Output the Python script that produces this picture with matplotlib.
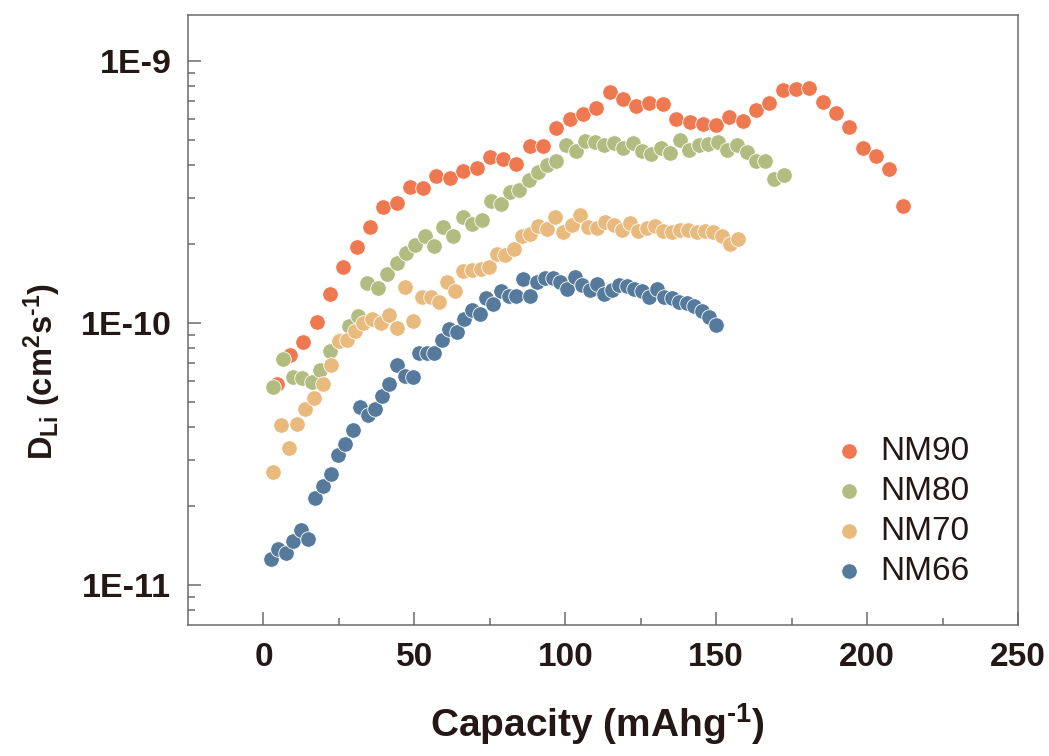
import numpy as np
import matplotlib
matplotlib.use("Agg")
import matplotlib.pyplot as plt
from matplotlib import font_manager as fm
from matplotlib.ticker import LogLocator, FuncFormatter, FixedLocator, NullFormatter

# ---------------- data (D in units of 1e-10 cm2/s) ----------------
series_names = ["NM90", "NM80", "NM70", "NM66"]
series_colors = ["#EE7850", "#B2BB80", "#E9BA7E", "#567A9C"]

nm90_cap = [4.4, 8.8, 13.2, 17.6, 22.1, 26.5, 30.9, 35.3, 39.7, 44.1,
            48.5, 52.9, 57.3, 61.8, 66.2, 70.6, 75.0, 79.4, 83.8, 88.2,
            92.6, 97.0, 101.5, 105.9, 110.3, 114.7, 119.1, 123.5, 127.9, 132.3,
            136.7, 141.2, 145.6, 150.0, 154.4, 158.8, 163.2, 167.6, 172.0, 176.4,
            180.9, 185.3, 189.7, 194.1, 198.5, 202.9, 207.3, 211.8]
nm90_d = [0.582, 0.752, 0.845, 1.01, 1.29, 1.63, 1.94, 2.32, 2.76, 2.87,
          3.30, 3.28, 3.64, 3.58, 3.78, 3.88, 4.28, 4.22, 4.04, 4.72,
          4.72, 5.56, 5.98, 6.26, 6.61, 7.59, 7.13, 6.74, 6.89, 6.83,
          5.99, 5.84, 5.71, 5.67, 6.10, 5.91, 6.48, 6.91, 7.70, 7.81,
          7.90, 6.95, 6.31, 5.61, 4.65, 4.32, 3.86, 2.78]

nm80_cap = [3.3, 6.4, 9.7, 12.8, 16.1, 18.7, 22.0, 25.1, 28.3, 31.4,
            34.4, 37.9, 40.8, 44.1, 47.2, 50.3, 53.4, 56.5, 59.6, 62.7,
            66.0, 69.1, 72.4, 75.3, 78.6, 81.7, 84.8, 87.9, 91.0, 94.0,
            96.9, 100.3, 103.6, 106.6, 109.9, 112.9, 116.0, 119.1, 122.3, 125.3,
            128.4, 131.7, 134.7, 138.0, 141.1, 144.2, 147.4, 150.5, 153.7, 156.8,
            160.1, 163.2, 166.3, 169.3, 172.6]
nm80_d = [0.571, 0.729, 0.619, 0.614, 0.596, 0.660, 0.781, 0.862, 0.972, 1.063,
          1.414, 1.36, 1.533, 1.688, 1.853, 1.974, 2.141, 1.962, 2.324, 2.141,
          2.527, 2.385, 2.47, 2.905, 2.848, 3.143, 3.218, 3.51, 3.775, 3.99,
          4.155, 4.77, 4.52, 4.946, 4.89, 4.753, 4.837, 4.63, 4.837, 4.52,
          4.39, 4.63, 4.456, 4.977, 4.56, 4.77, 4.81, 4.90, 4.56, 4.77,
          4.47, 4.155, 4.155, 3.53, 3.665]

nm70_cap = [3.0, 5.7, 8.4, 11.0, 13.9, 16.7, 19.6, 22.3, 25.1, 27.8,
            30.2, 33.1, 36.0, 38.8, 41.5, 44.3, 47.0, 49.6, 52.5, 55.4,
            58.1, 60.7, 63.4, 66.2, 69.1, 72.0, 74.6, 77.3, 80.1, 83.0,
            85.7, 88.3, 91.0, 93.8, 96.7, 99.3, 102.2, 104.9, 107.6, 110.4,
            113.2, 116.0, 118.8, 121.4, 124.2, 127.0, 129.7, 132.5, 135.3, 138.0,
            140.8, 143.5, 146.3, 149.0, 151.8, 154.6, 157.3]
nm70_d = [0.270, 0.408, 0.334, 0.413, 0.468, 0.515, 0.582, 0.689, 0.855, 0.862,
          0.933, 1.00, 1.036, 0.996, 1.07, 0.957, 1.365, 1.02, 1.252, 1.258,
          1.198, 1.426, 1.318, 1.578, 1.592, 1.611, 1.626, 1.825, 1.809, 1.907,
          2.141, 2.186, 2.35, 2.29, 2.536, 2.23, 2.371, 2.576, 2.32, 2.304,
          2.43, 2.371, 2.264, 2.406, 2.236, 2.304, 2.336, 2.236, 2.217, 2.256,
          2.256, 2.225, 2.236, 2.217, 2.141, 1.991, 2.093]

nm66_cap = [2.4, 4.9, 7.5, 9.9, 12.3, 14.8, 17.2, 19.8, 22.3, 24.7,
            27.1, 29.6, 32.0, 34.5, 36.9, 39.3, 41.7, 44.1, 46.9, 49.4,
            51.6, 54.1, 56.5, 59.1, 61.6, 64.0, 66.4, 69.0, 71.6, 73.8,
            76.2, 78.6, 81.3, 83.7, 85.9, 88.3, 90.7, 93.4, 95.9, 98.2,
            100.7, 103.2, 105.6, 108.1, 110.6, 112.9, 115.4, 117.9, 120.4, 122.9,
            125.4, 127.8, 130.3, 132.7, 135.3, 137.8, 140.2, 142.6, 145.2, 147.7,
            149.9]
nm66_d = [0.126, 0.137, 0.133, 0.147, 0.162, 0.150, 0.214, 0.239, 0.264, 0.314,
          0.345, 0.391, 0.479, 0.446, 0.468, 0.528, 0.582, 0.693, 0.626, 0.619,
          0.768, 0.768, 0.768, 0.862, 0.951, 0.919, 1.033, 1.117, 1.082, 1.244,
          1.177, 1.318, 1.269, 1.262, 1.468, 1.269, 1.426, 1.477, 1.477, 1.426,
          1.345, 1.49, 1.393, 1.337, 1.405, 1.288, 1.337, 1.389, 1.381, 1.345,
          1.318, 1.252, 1.345, 1.252, 1.241, 1.198, 1.188, 1.163, 1.113, 1.051,
          0.983]

x_ticks = [0, 50, 100, 150, 200, 250]
y_ticks = [1e-11, 1e-10, 1e-9]
x_label = "Capacity (mAhg$^{\\mathbf{\u20101}}$)"
y_label = "$\\mathbf{D_{Li}}$ (cm$^{\\mathbf{2}}$s$^{\\mathbf{\u20101}}$)"

# ---------------- fonts ----------------
names = {f.name for f in fm.fontManager.ttflist}
base = "Liberation Sans" if "Liberation Sans" in names else "DejaVu Sans"
plt.rcParams["font.family"] = [base, "DejaVu Sans"]
plt.rcParams["mathtext.fontset"] = "custom"
plt.rcParams["mathtext.rm"] = base
plt.rcParams["mathtext.bf"] = base + ":bold"
plt.rcParams["mathtext.it"] = base + ":italic"
plt.rcParams["mathtext.default"] = "bf"

TEXT = "#231815"
SPINE = "#6b6b6b"

fig = plt.figure(figsize=(10.49, 7.56), dpi=100)
ax = fig.add_axes([188 / 1049, 1 - 625 / 756, 830 / 1049, 610 / 756])

all_caps = [nm90_cap, nm80_cap, nm70_cap, nm66_cap]
all_d = [nm90_d, nm80_d, nm70_d, nm66_d]
for name, col, cap, d in zip(series_names, series_colors, all_caps, all_d):
    ax.scatter(cap, np.array(d) * 1e-10, s=125, color=col, edgecolors="white",
               linewidths=0.6, label=name, zorder=3)

ax.set_yscale("log")
ax.set_xlim(-25, 250)
ax.set_ylim(10 ** -11.1526, 10 ** -8.8257)

ax.xaxis.set_major_locator(FixedLocator(x_ticks))
ax.xaxis.set_minor_locator(FixedLocator([25, 75, 125, 175, 225]))
ax.yaxis.set_major_locator(FixedLocator(y_ticks))
ax.yaxis.set_minor_locator(LogLocator(base=10, subs=np.arange(2, 10)))
ax.yaxis.set_major_formatter(FuncFormatter(lambda v, p: "1E%d" % int(round(np.log10(v)))))
ax.yaxis.set_minor_formatter(NullFormatter())

ax.tick_params(axis="both", which="major", direction="in", length=9.5, width=1.1,
               color=SPINE, pad=12)
ax.tick_params(axis="both", which="minor", direction="in", length=5, width=1.1,
               color=SPINE)
ax.tick_params(top=False, right=False, which="both")
for sp in ax.spines.values():
    sp.set_color(SPINE)
    sp.set_linewidth(1.1)

for lab in ax.get_yticklabels():
    lab.set_fontsize(24.5)
    lab.set_fontweight("bold")
    lab.set_color(TEXT)
for lab in ax.get_xticklabels():
    lab.set_fontsize(24)
    lab.set_fontweight("bold")
    lab.set_color(TEXT)

ax.set_xlabel(x_label, fontsize=28, fontweight="bold", color=TEXT)
ax.xaxis.set_label_coords((597 - 188) / 830, (625 - 724) / 610)
ax.xaxis.label.set_va("center")
ax.set_ylabel(y_label, fontsize=23.5, fontweight="bold", color=TEXT)
ax.yaxis.set_label_coords((42 - 188) / 830, (625 - 372) / 610)
ax.yaxis.label.set_va("center")

leg = ax.legend(loc="upper left", bbox_to_anchor=(832 / 1049, 1 - 436 / 756),
                bbox_transform=fig.transFigure, frameon=False, fontsize=24,
                handlelength=1.0, handletextpad=0.45, labelspacing=0.27,
                borderpad=0, borderaxespad=0, markerscale=1.0)
for t in leg.get_texts():
    t.set_color(TEXT)

fig.savefig("out.png", dpi=100, facecolor="white")
